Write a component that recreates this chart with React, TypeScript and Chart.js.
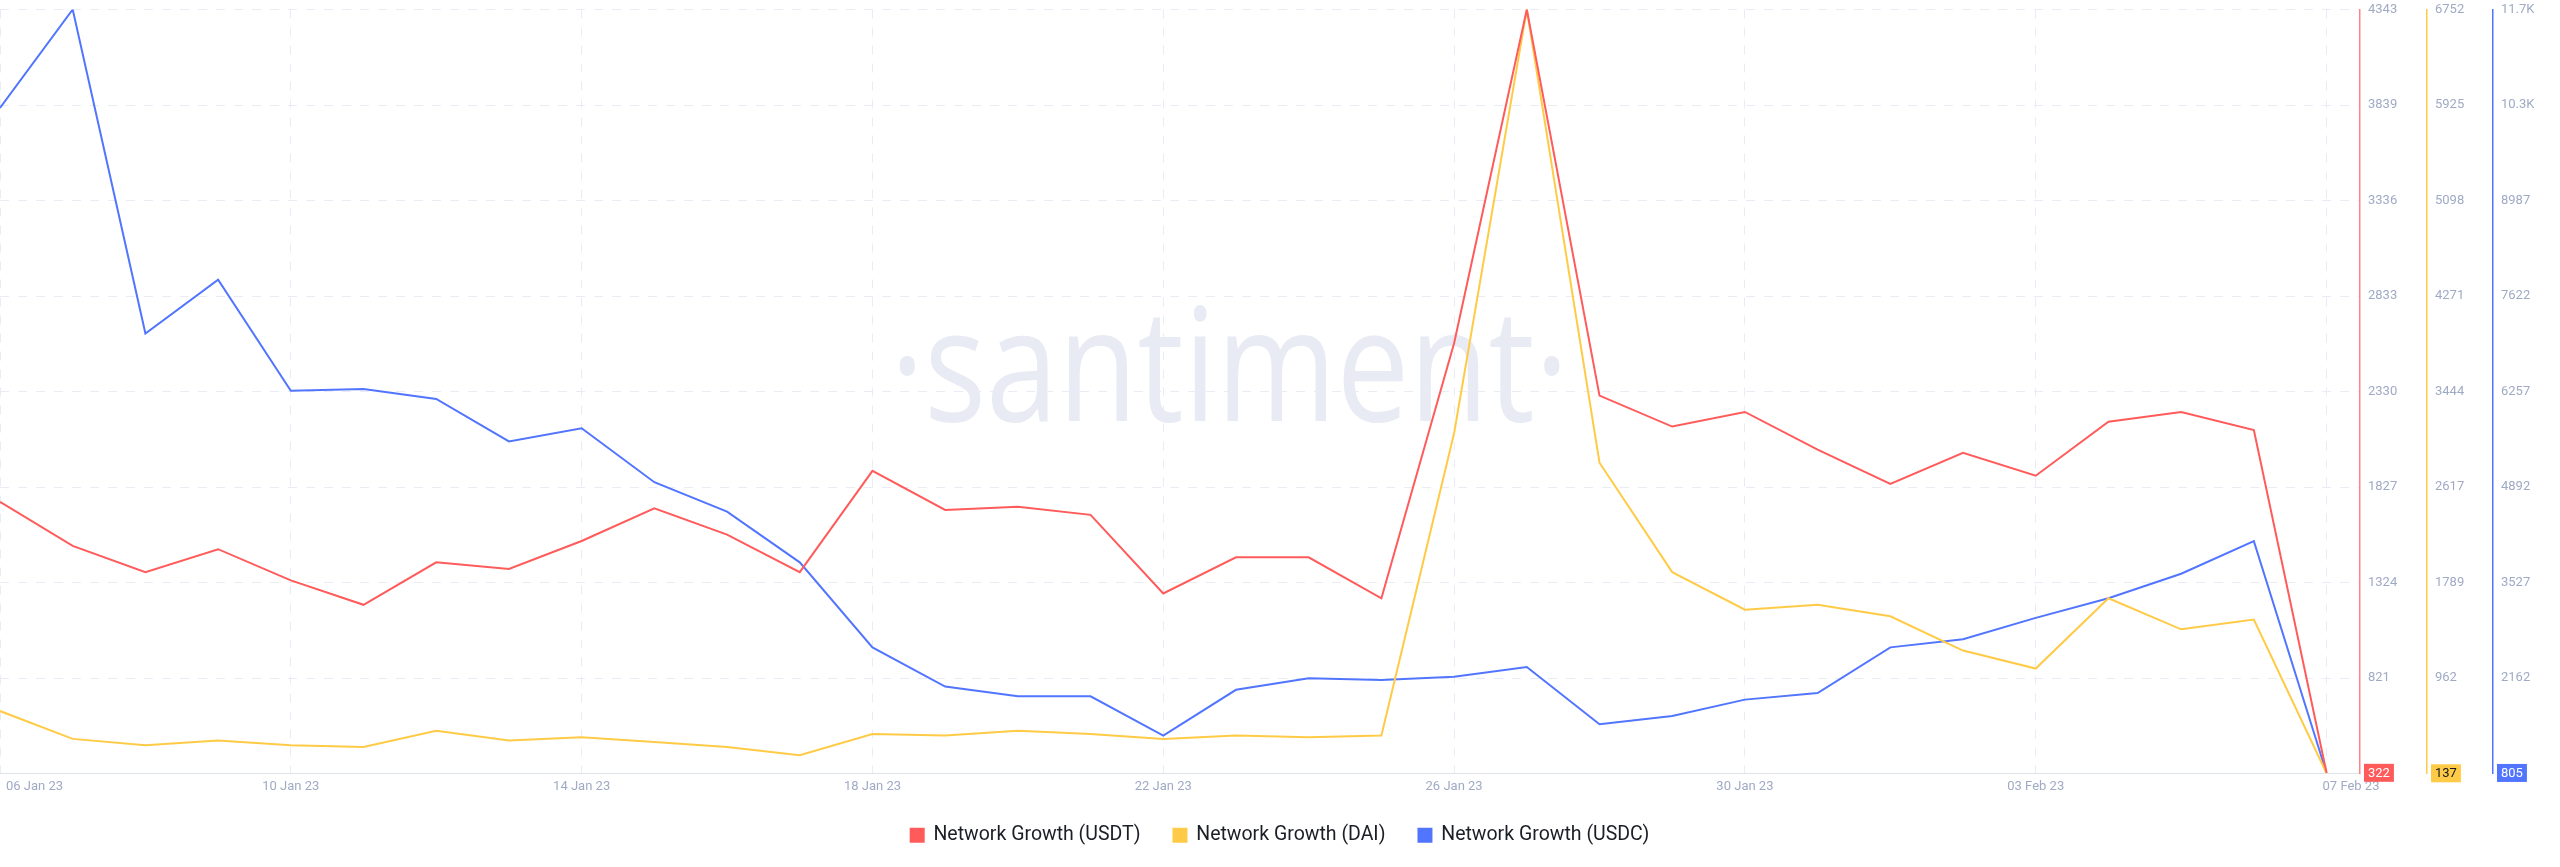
import React, { useEffect, useRef } from 'react';
import { Chart, registerables } from 'chart.js';

Chart.register(...registerables);

const dates = [
  '06 Jan 23', '07 Jan 23', '08 Jan 23', '09 Jan 23', '10 Jan 23', '11 Jan 23', '12 Jan 23',
  '13 Jan 23', '14 Jan 23', '15 Jan 23', '16 Jan 23', '17 Jan 23', '18 Jan 23', '19 Jan 23',
  '20 Jan 23', '21 Jan 23', '22 Jan 23', '23 Jan 23', '24 Jan 23', '25 Jan 23', '26 Jan 23',
  '27 Jan 23', '28 Jan 23', '29 Jan 23', '30 Jan 23', '31 Jan 23', '01 Feb 23', '02 Feb 23',
  '03 Feb 23', '04 Feb 23', '05 Feb 23', '06 Feb 23', '07 Feb 23',
];

const usdt = [
  1749, 1517, 1379, 1500, 1336, 1207, 1431, 1396, 1543, 1715, 1577, 1379, 1913, 1707, 1724, 1681,
  1267, 1457, 1457, 1241, 2585, 4343, 2309, 2146, 2223, 2025, 1844, 2008, 1887, 2171, 2223, 2128, 322,
];

const dai = [
  676, 435, 379, 421, 379, 365, 506, 421, 449, 407, 365, 294, 478, 464, 506, 478,
  435, 464, 449, 464, 3082, 6752, 2827, 1879, 1554, 1596, 1497, 1200, 1044, 1653, 1384, 1469, 137,
];

const usdc = [
  10309, 11717, 7085, 7856, 6268, 6291, 6151, 5544, 5731, 4960, 4539, 3815, 2600, 2040, 1900, 1900,
  1339, 1993, 2157, 2133, 2180, 2320, 1502, 1619, 1853, 1946, 2600, 2717, 3021, 3301, 3652, 4119, 805,
];

const xTickIndices = [0, 4, 8, 12, 16, 20, 24, 28, 32];

const usdtRange = [318.4, 4343];
const daiRange = [135.2, 6752];
const usdcRange = [797, 11717];

const usdtTickLabels = ['', '821', '1324', '1827', '2330', '2833', '3336', '3839', '4343'];
const daiTickLabels = ['', '962', '1789', '2617', '3444', '4271', '5098', '5925', '6752'];
const usdcTickLabels = ['', '2162', '3527', '4892', '6257', '7622', '8987', '10.3K', '11.7K'];

const seriesNames = ['Network Growth (USDT)', 'Network Growth (DAI)', 'Network Growth (USDC)'];

const RED = '#ff5b5b';
const YELLOW = '#ffcb47';
const BLUE = '#5275ff';
const TICK_COLOR = '#9faac4';
const GRID_COLOR = '#e9ecf4';
const FONT = 'Roboto';

function evenTicks(range: number[], n: number) {
  const out: { value: number }[] = [];
  for (let k = 0; k < n; k++) out.push({ value: range[0] + ((range[1] - range[0]) * k) / (n - 1) });
  return out;
}

const overlayPlugin = {
  id: 'overlay',
  beforeDraw(chart: any) {
    const { ctx, chartArea } = chart;
    ctx.save();
    ctx.fillStyle = '#e8ebf3';
    ctx.font = '400 158px "Open Sans"';
    ctx.textAlign = 'center';
    ctx.textBaseline = 'alphabetic';
    const cx = chartArea.left + (chartArea.right - chartArea.left) * 0.521;
    const cy = chartArea.top + (chartArea.bottom - chartArea.top) * 0.539;
    ctx.translate(cx, cy);
    ctx.scale(0.82, 1);
    ctx.fillText('\u00B7santiment\u00B7', 0, 0);
    ctx.restore();
  },
  afterDraw(chart: any) {
    const { ctx, chartArea } = chart;
    const xs = chart.scales.x;
    ctx.save();
    ctx.font = `13px ${FONT}`;
    ctx.fillStyle = TICK_COLOR;
    ctx.textBaseline = 'middle';
    const ly = chartArea.bottom + 13;
    xTickIndices.forEach((idx, k) => {
      const px = xs.getPixelForValue(idx);
      if (k === 0) {
        ctx.textAlign = 'left';
        ctx.fillText(dates[idx], px + 6, ly);
      } else if (k === xTickIndices.length - 1) {
        ctx.textAlign = 'left';
        ctx.fillText(dates[idx], px - 4, ly);
      } else {
        ctx.textAlign = 'center';
        ctx.fillText(dates[idx], px, ly);
      }
    });
    const badges = [
      { axis: 'y', data: usdt, bg: RED, fg: '#ffffff' },
      { axis: 'y1', data: dai, bg: YELLOW, fg: '#15171c' },
      { axis: 'y2', data: usdc, bg: BLUE, fg: '#ffffff' },
    ];
    ctx.font = `13px ${FONT}`;
    badges.forEach((b) => {
      const sc = chart.scales[b.axis];
      const v = b.data[b.data.length - 1];
      const y = sc.getPixelForValue(v);
      const label = String(v);
      const w = ctx.measureText(label).width + 8;
      ctx.fillStyle = b.bg;
      ctx.fillRect(sc.left + 4, y - 9, w, 18);
      ctx.fillStyle = b.fg;
      ctx.textAlign = 'left';
      ctx.textBaseline = 'middle';
      ctx.fillText(label, sc.left + 8, y + 0.5);
    });
    ctx.restore();
  },
};

function yAxis(range: number[], labels: string[], color: string, weight: number, width: number, showGrid: boolean) {
  return {
    type: 'linear',
    position: 'right',
    weight,
    min: range[0],
    max: range[1],
    afterBuildTicks: (s: any) => {
      s.ticks = evenTicks(range, labels.length);
    },
    afterFit: (s: any) => {
      s.width = width;
    },
    ticks: {
      callback: (_v: any, i: number) => labels[i],
      color: TICK_COLOR,
      font: { family: FONT, size: 13 },
      padding: 0,
    },
    grid: {
      display: true,
      drawOnChartArea: showGrid,
      color: GRID_COLOR,
      drawTicks: true,
      tickLength: 8,
      tickWidth: 0,
      tickColor: 'rgba(0,0,0,0)',
      lineWidth: 1,
    },
    border: { display: true, color, width: 1.5, dash: [9, 9] },
  };
}

export default function App() {
  const ref = useRef<HTMLCanvasElement | null>(null);

  useEffect(() => {
    document.body.style.margin = '0';
    if (!ref.current) return;
    const mk = (arr: number[]) => arr.map((v, i) => ({ x: i, y: v }));
    const chart = new Chart(ref.current, {
      type: 'line',
      data: {
        datasets: [
          { label: seriesNames[0], data: mk(usdt), yAxisID: 'y', borderColor: RED, backgroundColor: RED, borderWidth: 2, pointRadius: 0, tension: 0 },
          { label: seriesNames[1], data: mk(dai), yAxisID: 'y1', borderColor: YELLOW, backgroundColor: YELLOW, borderWidth: 2, pointRadius: 0, tension: 0 },
          { label: seriesNames[2], data: mk(usdc), yAxisID: 'y2', borderColor: BLUE, backgroundColor: BLUE, borderWidth: 2, pointRadius: 0, tension: 0 },
        ],
      } as any,
      options: {
        responsive: false,
        animation: false,
        layout: { padding: { top: 9.5, bottom: 12, left: 0, right: 0 } },
        plugins: {
          legend: {
            position: 'bottom',
            labels: {
              boxWidth: 13,
              boxHeight: 13,
              padding: 33,
              color: '#1b1e25',
              font: { family: FONT, size: 19.5 },
            },
          },
          tooltip: { enabled: false },
        },
        scales: {
          x: {
            type: 'linear',
            min: 0,
            max: 32.46,
            afterFit: (s: any) => {
              s.height = 19;
            },
            ticks: { display: false, stepSize: 4, includeBounds: false },
            grid: { display: true, color: GRID_COLOR, drawTicks: false, lineWidth: 1 },
            border: { display: true, color: '#dfe3ee', width: 1, dash: [9, 9] },
          },
          y: yAxis(usdtRange, usdtTickLabels, 'rgba(255,91,91,0.75)', 0, 67, true),
          y1: yAxis(daiRange, daiTickLabels, YELLOW, 1, 66, false),
          y2: yAxis(usdcRange, usdcTickLabels, BLUE, 2, 67, false),
        } as any,
      },
      plugins: [overlayPlugin],
    });
    return () => chart.destroy();
  }, []);

  return (
    <div style={{ width: 2560, height: 867 }}>
      <canvas ref={ref} width={2560} height={867} style={{ display: 'block' }} />
    </div>
  );
}
